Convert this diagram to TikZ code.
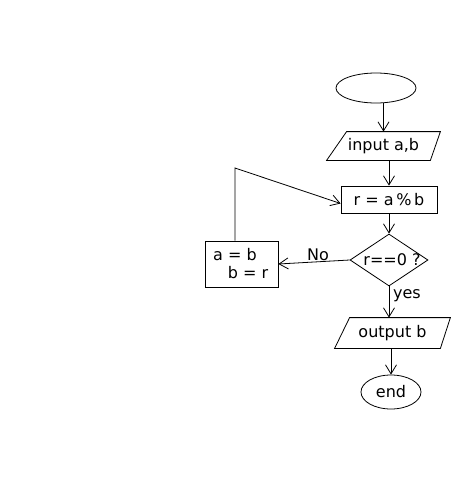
\documentclass[tikz,border=0pt]{standalone}
\usepackage{fontspec}
\setmainfont{DejaVu Sans}
\usetikzlibrary{arrows.meta,shapes.geometric}
\begin{document}
\begin{tikzpicture}[x=1pt,y=-1pt,
  line width=0.8pt,
  every node/.style={font=\fontsize{16}{19}\selectfont},
  arr/.style={-{Straight Barb[length=9pt,width=11pt,line width=0.8pt]}},
  term/.style={ellipse,draw,inner sep=0pt},
  blockbox/.style={rectangle,draw,inner sep=0pt},
  iobox/.style={rectangle,inner sep=0pt},
  decide/.style={diamond,draw,inner sep=0pt,aspect=1.5},
  lbl/.style={inner sep=1pt}]
\useasboundingbox (0,0) rectangle (452,480);

% terminals
\node[term,minimum width=80,minimum height=30] (start) at (376,88) {};
\node[term,minimum width=60,minimum height=34] (stop) at (391,392) {end};

% input / output parallelograms: the node holds the text, the outline is drawn around it
\node[iobox,minimum width=113,minimum height=28] (in) at (383.5,146) {input a,b};
\draw (in.south west) -- ([xshift=-10]in.south east) -- (in.north east)
      -- ([xshift=20]in.north west) -- cycle;
\node[iobox,minimum width=115,minimum height=30] (out) at (392.5,333) {output b};
\draw (out.south west) -- ([xshift=-10]out.south east) -- (out.north east)
      -- ([xshift=15]out.north west) -- cycle;

% process boxes
\node[blockbox,minimum width=96,minimum height=27] (rbox) at (389,199.5) {r = a\,\%\,b};
\node[blockbox,minimum width=73,minimum height=46] (ab) at (241.5,264) {};
\node[lbl] (ab1) at (235,255) {a = b};
\node[lbl] (ab2) at (248,273) {b = r};

% decision (its text runs a little past the outline)
\node[decide,minimum width=78,minimum height=52] (dia) at (389,260) {};
\node[lbl] (cond) at (392,260) {r==0 ?};

% edge labels
\node[lbl] (no) at (318,255) {No};
\node[lbl] (yes) at (407,296) {yes};

% connectors
\coordinate (turn) at (235,168);
\draw[arr] (start.south -| in.north) -- (in.north);
\draw[arr] (in.south -| rbox.north) -- (rbox.north);
\draw[arr] (rbox.south) -- (dia.north);
\draw[arr] (dia.west) -- (ab.east);
\draw[arr] (ab.north -| turn) -- (turn) -- ([yshift=-4]rbox.west);
\draw[arr] (dia.south) -- (dia.south |- out.north);
\draw[arr] (out.south -| stop.north) -- (stop.north);
\end{tikzpicture}
\end{document}
